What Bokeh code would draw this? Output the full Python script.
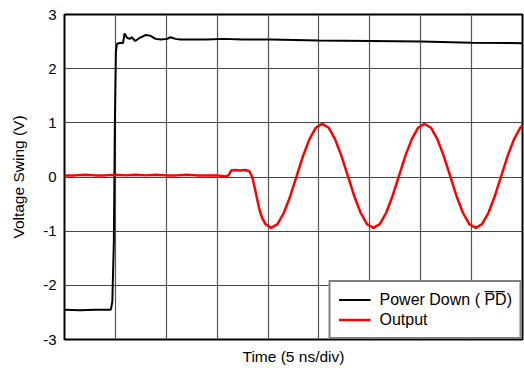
from bokeh.plotting import figure
from bokeh.models import Range1d, FixedTicker, Legend, LegendItem
from bokeh.embed import file_html
from bokeh.resources import INLINE

# Time in divisions (5 ns/div), voltage in volts
pd_time = [0.00, 0.30, 0.60, 0.91, 0.94, 0.97, 0.99, 1.01, 1.03, 1.07, 1.11, 1.15,
           1.18, 1.23, 1.28, 1.32, 1.39, 1.48, 1.59, 1.68, 1.79, 1.89, 2.02, 2.08,
           2.18, 2.28, 2.48, 2.80, 3.12, 3.50, 4.05, 5.00, 6.01, 7.00, 8.00, 9.00]
pd_volts = [-2.45, -2.46, -2.45, -2.45, -2.30, -1.19, 1.03, 2.30, 2.46, 2.47, 2.48, 2.47,
            2.65, 2.57, 2.55, 2.58, 2.51, 2.57, 2.62, 2.61, 2.55, 2.54, 2.55, 2.58,
            2.55, 2.54, 2.54, 2.54, 2.55, 2.54, 2.54, 2.52, 2.51, 2.50, 2.48, 2.47]

out_time = [0.00, 0.20, 0.40, 0.60, 0.80, 1.00, 1.20, 1.40, 1.60, 1.80, 2.00, 2.20,
            2.40, 2.60, 2.80, 3.00, 3.10, 3.16, 3.22, 3.28, 3.34, 3.45, 3.55, 3.63,
            3.69, 3.75, 3.82, 3.88, 3.95,
            4.060, 4.186, 4.311, 4.437, 4.563, 4.688, 4.814, 4.939,
            5.065, 5.191, 5.316, 5.442, 5.568, 5.693, 5.819, 5.944,
            6.070, 6.196, 6.321, 6.447, 6.573, 6.698, 6.824, 6.950,
            7.075, 7.201, 7.326, 7.452, 7.578, 7.703, 7.829, 7.954,
            8.080, 8.206, 8.331, 8.457, 8.583, 8.708, 8.834, 8.959, 9.00]
out_volts = [0.03, 0.03, 0.04, 0.03, 0.03, 0.04, 0.03, 0.04, 0.03, 0.04, 0.03, 0.03,
             0.04, 0.03, 0.03, 0.03, 0.02, 0.01, 0.03, 0.12, 0.13, 0.12, 0.13, 0.11,
             0.00, -0.25, -0.56, -0.75, -0.87,
             -0.94, -0.87, -0.66, -0.35, 0.02, 0.39, 0.70, 0.91,
             0.98, 0.91, 0.70, 0.39, 0.02, -0.35, -0.66, -0.87,
             -0.94, -0.87, -0.66, -0.35, 0.02, 0.39, 0.70, 0.91,
             0.98, 0.91, 0.70, 0.39, 0.02, -0.35, -0.66, -0.87,
             -0.94, -0.87, -0.66, -0.35, 0.02, 0.39, 0.70, 0.91, 0.95]

y_ticks = [-3, -2, -1, 0, 1, 2, 3]
y_tick_labels = ["-3", "-2", "-1", "0", "1", "2", "3"]
x_grid = [1, 2, 3, 4, 5, 6, 7, 8]

FONT = "Liberation Sans"

p = figure(frame_width=458, frame_height=325,
           x_range=Range1d(0, 9), y_range=Range1d(-3, 3),
           output_backend="svg", toolbar_location=None,
           min_border_left=64, min_border_right=2,
           min_border_top=14, min_border_bottom=29)

p.outline_line_color = "black"
p.outline_line_width = 2
p.background_fill_color = "white"
p.border_fill_color = "white"

# y axis
p.yaxis.ticker = FixedTicker(ticks=y_ticks)
p.yaxis.major_label_overrides = dict(zip(y_ticks, y_tick_labels))
p.yaxis.axis_line_color = None
p.yaxis.major_tick_line_color = None
p.yaxis.minor_tick_line_color = None
p.yaxis.major_tick_out = 0
p.yaxis.major_tick_in = 0
p.yaxis.minor_tick_out = 0
p.yaxis.major_label_standoff = 8
p.yaxis.major_label_text_font = FONT
p.yaxis.major_label_text_font_size = "15px"
p.yaxis.major_label_text_color = "black"
p.yaxis.axis_label = "Voltage Swing (V)"
p.yaxis.axis_label_text_font = FONT
p.yaxis.axis_label_text_font_size = "15.5px"
p.yaxis.axis_label_text_font_style = "normal"
p.yaxis.axis_label_text_color = "black"
p.yaxis.axis_label_standoff = 13

# x axis: label only
p.xaxis.ticker = FixedTicker(ticks=[])
p.xaxis.axis_line_color = None
p.xaxis.major_tick_line_color = None
p.xaxis.minor_tick_line_color = None
p.xaxis.axis_label = "Time (5 ns/div)"
p.xaxis.axis_label_text_font = FONT
p.xaxis.axis_label_text_font_size = "15.5px"
p.xaxis.axis_label_text_font_style = "normal"
p.xaxis.axis_label_text_color = "black"
p.xaxis.axis_label_standoff = 8

p.xgrid.ticker = FixedTicker(ticks=x_grid)
p.ygrid.ticker = FixedTicker(ticks=[-2, -1, 0, 1, 2])
p.xgrid.grid_line_color = "#555555"
p.ygrid.grid_line_color = "#444444"
p.xgrid.grid_line_width = 1.2
p.ygrid.grid_line_width = 1.2
p.xgrid.grid_line_alpha = 1
p.ygrid.grid_line_alpha = 1

r_pd = p.line(pd_time, pd_volts, line_color="black", line_width=2)
r_out = p.line(out_time, out_volts, line_color="#ff0000", line_width=2.5)

legend = Legend(items=[
    LegendItem(label="Power Down ( P\u0305D\u0305)", renderers=[r_pd]),
    LegendItem(label="Output", renderers=[r_out]),
], location="bottom_right")
legend.margin = 0
legend.padding = 8
legend.spacing = 1
legend.border_line_color = "black"
legend.border_line_width = 2
legend.background_fill_alpha = 1
legend.label_text_font = FONT
legend.label_text_font_size = "16px"
legend.label_text_color = "black"
legend.glyph_width = 32
legend.glyph_height = 19
legend.label_height = 19
legend.label_standoff = 9
p.add_layout(legend)

open("out.html", "w").write(file_html(p, INLINE))
